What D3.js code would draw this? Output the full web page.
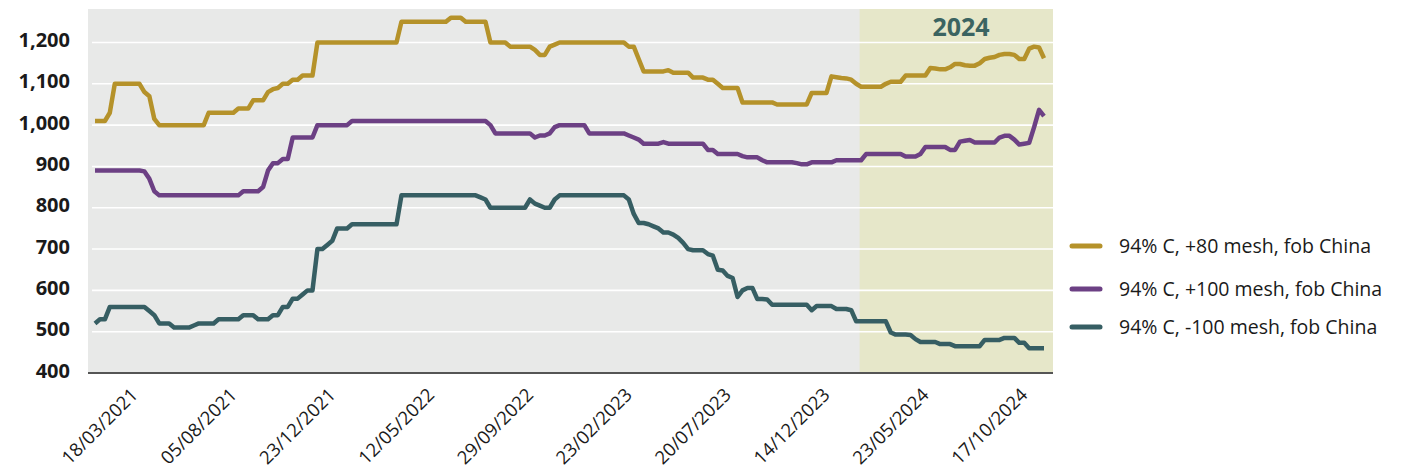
<!DOCTYPE html>
<html lang="en">
<head>
    <meta charset="UTF-8">
    <title>Graphite flake prices, fob China</title>

    <!-- D3.js -->
    <script src="https://d3js.org/d3.v7.min.js"></script>

    <style>
        body { margin: 0; background: #fff; }
        svg text { font-family: "Open Sans", sans-serif; }
    </style>
</head>
<body>

<svg id="chart" width="1409" height="470"></svg>

<script>
    // Weekly prices, one value per week (US$/t)
    const seriesNames = ["94% C, +80 mesh, fob China", "94% C, +100 mesh, fob China", "94% C, -100 mesh, fob China"];

    const plus80 = [
        1010, 1010, 1010, 1030, 1100, 1100, 1100, 1100, 1100, 1100,
        1080, 1070, 1015, 1000, 1000, 1000, 1000, 1000, 1000, 1000,
        1000, 1000, 1000, 1030, 1030, 1030, 1030, 1030, 1030, 1040,
        1040, 1040, 1060, 1060, 1060, 1080, 1087, 1090, 1100, 1100,
        1110, 1110, 1120, 1120, 1120, 1200, 1200, 1200, 1200, 1200,
        1200, 1200, 1200, 1200, 1200, 1200, 1200, 1200, 1200, 1200,
        1200, 1200, 1250, 1250, 1250, 1250, 1250, 1250, 1250, 1250,
        1250, 1250, 1260, 1260, 1260, 1250, 1250, 1250, 1250, 1250,
        1200, 1200, 1200, 1200, 1190, 1190, 1190, 1190, 1190, 1182,
        1170, 1170, 1190, 1195, 1200, 1200, 1200, 1200, 1200, 1200,
        1200, 1200, 1200, 1200, 1200, 1200, 1200, 1200, 1190, 1190,
        1160, 1130, 1130, 1130, 1130, 1130, 1133, 1127, 1127, 1127,
        1127, 1115, 1115, 1115, 1110, 1110, 1100, 1090, 1090, 1090,
        1090, 1055, 1055, 1055, 1055, 1055, 1055, 1055, 1050, 1050,
        1050, 1050, 1050, 1050, 1050, 1078, 1078, 1078, 1078, 1118,
        1116, 1114, 1113, 1110, 1100, 1093, 1093, 1093, 1093, 1093,
        1100, 1105, 1105, 1105, 1120, 1120, 1120, 1120, 1120, 1138,
        1137, 1135, 1135, 1140, 1148, 1148, 1145, 1144, 1144, 1150,
        1160, 1163, 1165, 1170, 1172, 1172, 1170, 1160, 1160, 1185,
        1190, 1188, 1162
    ];

    const plus100 = [
        890, 890, 890, 890, 890, 890, 890, 890, 890, 890,
        888, 870, 840, 830, 830, 830, 830, 830, 830, 830,
        830, 830, 830, 830, 830, 830, 830, 830, 830, 830,
        840, 840, 840, 840, 850, 890, 908, 908, 918, 918,
        970, 970, 970, 970, 970, 1000, 1000, 1000, 1000, 1000,
        1000, 1000, 1010, 1010, 1010, 1010, 1010, 1010, 1010, 1010,
        1010, 1010, 1010, 1010, 1010, 1010, 1010, 1010, 1010, 1010,
        1010, 1010, 1010, 1010, 1010, 1010, 1010, 1010, 1010, 1010,
        1000, 980, 980, 980, 980, 980, 980, 980, 980, 970,
        975, 975, 980, 995, 1000, 1000, 1000, 1000, 1000, 1000,
        980, 980, 980, 980, 980, 980, 980, 980, 975, 970,
        965, 955, 955, 955, 955, 959, 955, 955, 955, 955,
        955, 955, 955, 955, 940, 940, 930, 930, 930, 930,
        930, 925, 922, 922, 922, 915, 910, 910, 910, 910,
        910, 910, 908, 905, 905, 910, 910, 910, 910, 910,
        915, 915, 915, 915, 915, 915, 930, 930, 930, 930,
        930, 930, 930, 930, 924, 924, 924, 930, 947, 947,
        947, 947, 947, 940, 940, 960, 962, 964, 958, 958,
        958, 958, 958, 970, 974, 974, 965, 953, 955, 957,
        995, 1037, 1022
    ];

    const minus100 = [
        520, 530, 530, 560, 560, 560, 560, 560, 560, 560,
        560, 550, 540, 520, 520, 520, 510, 510, 510, 510,
        515, 520, 520, 520, 520, 530, 530, 530, 530, 530,
        540, 540, 540, 530, 530, 530, 540, 540, 560, 560,
        580, 580, 590, 600, 600, 700, 700, 710, 720, 750,
        750, 750, 760, 760, 760, 760, 760, 760, 760, 760,
        760, 760, 830, 830, 830, 830, 830, 830, 830, 830,
        830, 830, 830, 830, 830, 830, 830, 830, 825, 820,
        800, 800, 800, 800, 800, 800, 800, 800, 820, 810,
        805, 800, 800, 820, 830, 830, 830, 830, 830, 830,
        830, 830, 830, 830, 830, 830, 830, 830, 820, 785,
        763, 763, 760, 755, 750, 740, 740, 735, 727, 715,
        700, 697, 697, 697, 688, 684, 650, 648, 635, 630,
        584, 600, 606, 606, 579, 579, 578, 565, 565, 565,
        565, 565, 565, 565, 565, 552, 562, 562, 562, 562,
        555, 555, 555, 552, 525, 525, 525, 525, 525, 525,
        525, 498, 493, 493, 493, 492, 482, 475, 475, 475,
        475, 470, 470, 470, 465, 465, 465, 465, 465, 465,
        480, 480, 480, 480, 485, 485, 485, 473, 473, 460,
        460, 460, 460
    ];

    // category axis: a label every 20 weeks
    const tickIndex = [8, 28, 48, 68, 88, 108, 128, 148, 168, 188];
    const tickLabels = ["18/03/2021", "05/08/2021", "23/12/2021", "12/05/2022", "29/09/2022",
                        "23/02/2023", "20/07/2023", "14/12/2023", "23/05/2024", "17/10/2024"];
    const yTicks = [400, 500, 600, 700, 800, 900, 1000, 1100, 1200];
    const start2024 = 155;   // first week of 2024

    const series = [plus80, plus100, minus100];
    const colors = ["#b5922a", "#6c4084", "#365e63"];

    // layout
    const plotLeft = 88, plotRight = 1053, plotTop = 9, plotBottom = 373;
    const legendY = [246, 289, 327];

    const svg = d3.select("#chart");

    const x = d3.scaleLinear()
        .domain([0, plus80.length - 1])
        .range([95, 1044]);

    const y = d3.scaleLinear()
        .domain([400, 1200])
        .range([plotBottom, 42.5]);

    // panel background + 2024 highlight
    svg.append("rect")
        .attr("x", plotLeft).attr("y", plotTop)
        .attr("width", plotRight - plotLeft).attr("height", plotBottom - plotTop)
        .attr("fill", "#e8e9e8");

    svg.append("rect")
        .attr("x", x(start2024 - 0.3)).attr("y", plotTop)
        .attr("width", plotRight - x(start2024 - 0.3)).attr("height", plotBottom - plotTop)
        .attr("fill", "#e6e7c9");

    svg.append("text")
        .attr("x", 961).attr("y", 36)
        .attr("text-anchor", "middle")
        .attr("font-size", 25).attr("font-weight", 700)
        .attr("fill", "#3b6461")
        .text("2024");

    // gridlines
    svg.append("g")
        .selectAll("line")
        .data(yTicks.filter(d => d > 400))
        .join("line")
        .attr("x1", 92).attr("x2", plotRight)
        .attr("y1", d => y(d)).attr("y2", d => y(d))
        .attr("stroke", "#fff").attr("stroke-width", 1.6);

    // Y axis labels
    const yAxis = svg.append("g")
        .attr("transform", `translate(${plotLeft},0)`)
        .call(d3.axisLeft(y).tickValues(yTicks).tickFormat(d3.format(",")).tickSize(0).tickPadding(18));
    yAxis.select(".domain").remove();
    yAxis.selectAll("text")
        .attr("dy", "0.2em")
        .attr("font-size", 20).attr("font-weight", 700)
        .attr("fill", "#1a1a1a");

    // X axis
    const xAxis = svg.append("g")
        .attr("transform", `translate(0,${plotBottom})`)
        .call(d3.axisBottom(x).tickValues(tickIndex).tickFormat((d, i) => tickLabels[i]).tickSize(0));
    xAxis.select(".domain").remove();
    xAxis.selectAll("text")
        .attr("x", 0).attr("y", 0).attr("dy", 0)
        .attr("transform", "translate(4,23) rotate(-45)")
        .attr("text-anchor", "end")
        .attr("font-size", 18.5)
        .attr("fill", "#1a1a1a");

    svg.append("line")
        .attr("x1", plotLeft).attr("x2", plotRight)
        .attr("y1", plotBottom).attr("y2", plotBottom)
        .attr("stroke", "#555").attr("stroke-width", 2);

    // lines
    const line = d3.line()
        .x((d, i) => x(i))
        .y(d => y(d));

    svg.append("g")
        .selectAll("path")
        .data(series)
        .join("path")
        .attr("d", line)
        .attr("fill", "none")
        .attr("stroke", (d, i) => colors[i])
        .attr("stroke-width", 4.5)
        .attr("stroke-linejoin", "round");

    // legend
    const legend = svg.append("g")
        .selectAll("g")
        .data(seriesNames)
        .join("g")
        .attr("transform", (d, i) => `translate(1070,${legendY[i]})`);

    legend.append("line")
        .attr("x1", 2).attr("x2", 30)
        .attr("stroke", (d, i) => colors[i])
        .attr("stroke-width", 5)
        .attr("stroke-linecap", "round");

    legend.append("text")
        .attr("x", 49).attr("y", 7)
        .attr("font-size", 19.5)
        .attr("fill", "#1a1a1a")
        .text(d => d);
</script>

</body>
</html>
